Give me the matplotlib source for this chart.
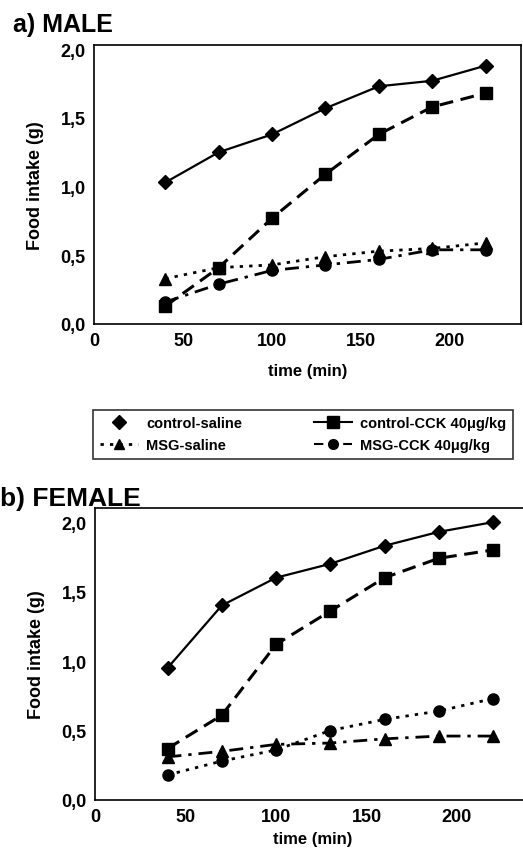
"""
Food intake over time, male and female panels.
"""

import matplotlib.pyplot as plt
from matplotlib.lines import Line2D

plt.rcParams['font.family'] = ['Liberation Sans', 'DejaVu Sans']
plt.rcParams['font.weight'] = 'bold'

time_min = [40, 70, 100, 130, 160, 190, 220]

# male
male_ctrl_saline = [1.03, 1.25, 1.38, 1.57, 1.73, 1.77, 1.88]
male_ctrl_cck = [0.13, 0.41, 0.77, 1.09, 1.38, 1.58, 1.68]
male_msg_saline = [0.33, 0.41, 0.43, 0.49, 0.53, 0.55, 0.59]
male_msg_cck = [0.16, 0.29, 0.39, 0.43, 0.47, 0.54, 0.54]

# female
female_ctrl_saline = [0.95, 1.40, 1.60, 1.70, 1.83, 1.93, 2.00]
female_ctrl_cck = [0.37, 0.61, 1.12, 1.36, 1.60, 1.74, 1.80]
female_msg_saline = [0.31, 0.35, 0.40, 0.41, 0.44, 0.46, 0.46]
female_msg_cck = [0.18, 0.28, 0.36, 0.50, 0.58, 0.64, 0.73]

x_ticks = [0, 50, 100, 150, 200]
y_ticks = [0.0, 0.5, 1.0, 1.5, 2.0]
y_tick_labels = ['0,0', '0,5', '1,0', '1,5', '2,0']
series_names = ['control-saline', 'control-CCK 40\u03bcg/kg',
                'MSG-saline', 'MSG-CCK 40\u03bcg/kg']

SOLID = '-'
LONG_DASH = (0, (4.5, 2.5))
SHORT_DOT = (0, (1.2, 2.2))
DASH_DOT = (0, (5, 2.5, 1.2, 2.5))


def draw_panel(ax, ctrl_sal, ctrl_cck, msg_sal, msg_cck, tri_ls, circ_ls, ymax, xmax, xpad):
    ax.plot(time_min, ctrl_sal, color='black', ls=SOLID, lw=1.6,
            marker='D', ms=7, zorder=4)
    ax.plot(time_min, ctrl_cck, color='black', ls=LONG_DASH, lw=2.2,
            marker='s', ms=9, zorder=3)
    ax.plot(time_min, msg_sal, color='black', ls=tri_ls, lw=2.0,
            marker='^', ms=8, zorder=3)
    ax.plot(time_min, msg_cck, color='black', ls=circ_ls, lw=2.0,
            marker='o', ms=8, zorder=3)
    ax.set_xlim(0, xmax)
    ax.set_ylim(0, ymax)
    ax.set_xticks(x_ticks)
    ax.set_yticks(y_ticks)
    ax.set_yticklabels(y_tick_labels)
    ax.tick_params(length=0, labelsize=13, pad=6)
    for lab in ax.get_xticklabels() + ax.get_yticklabels():
        lab.set_fontweight('bold')
    for sp in ax.spines.values():
        sp.set_linewidth(1.2)
    ax.set_xlabel('time (min)', fontsize=12, fontweight='bold', labelpad=xpad)
    ax.set_ylabel('Food intake (g)', fontsize=13, fontweight='bold', labelpad=12)


fig = plt.figure(figsize=(5.23, 8.53), dpi=100)

ax_a = fig.add_axes([0.180, 0.619, 0.8165, 0.327])
draw_panel(ax_a, male_ctrl_saline, male_ctrl_cck, male_msg_saline, male_msg_cck,
           SHORT_DOT, DASH_DOT, 2.03, 240, 10)
fig.text(0.025, 0.962, 'a) MALE', fontsize=18, fontweight='bold', va='baseline')

ax_b = fig.add_axes([0.182, 0.061, 0.83, 0.342])
draw_panel(ax_b, female_ctrl_saline, female_ctrl_cck, female_msg_saline, female_msg_cck,
           DASH_DOT, SHORT_DOT, 2.1, 240, 4)
fig.text(0.0, 0.407, 'b) FEMALE', fontsize=19, fontweight='bold', va='baseline')

handles = [
    Line2D([], [], color='black', ls='none', marker='D', ms=7),
    Line2D([], [], color='black', ls=SOLID, lw=1.5, marker='s', ms=8),
    Line2D([], [], color='black', ls=SHORT_DOT, lw=2, marker='^', ms=7),
    Line2D([], [], color='black', ls=LONG_DASH, lw=1.5, marker='o', ms=7),
]
order = [0, 2, 1, 3]
leg = fig.legend([handles[i] for i in order], [series_names[i] for i in order],
                 ncol=2, loc='lower left', bbox_to_anchor=(0.178, 0.461, 0.803, 0.061),
                 mode='expand', fancybox=False, frameon=True, edgecolor='black',
                 prop={'size': 10.5, 'weight': 'bold'}, handlelength=2.6,
                 borderpad=0.45, labelspacing=0.55, handletextpad=0.6,
                 borderaxespad=0)
leg.get_frame().set_linewidth(1.2)

plt.savefig('out.png', dpi=100)
plt.close()
